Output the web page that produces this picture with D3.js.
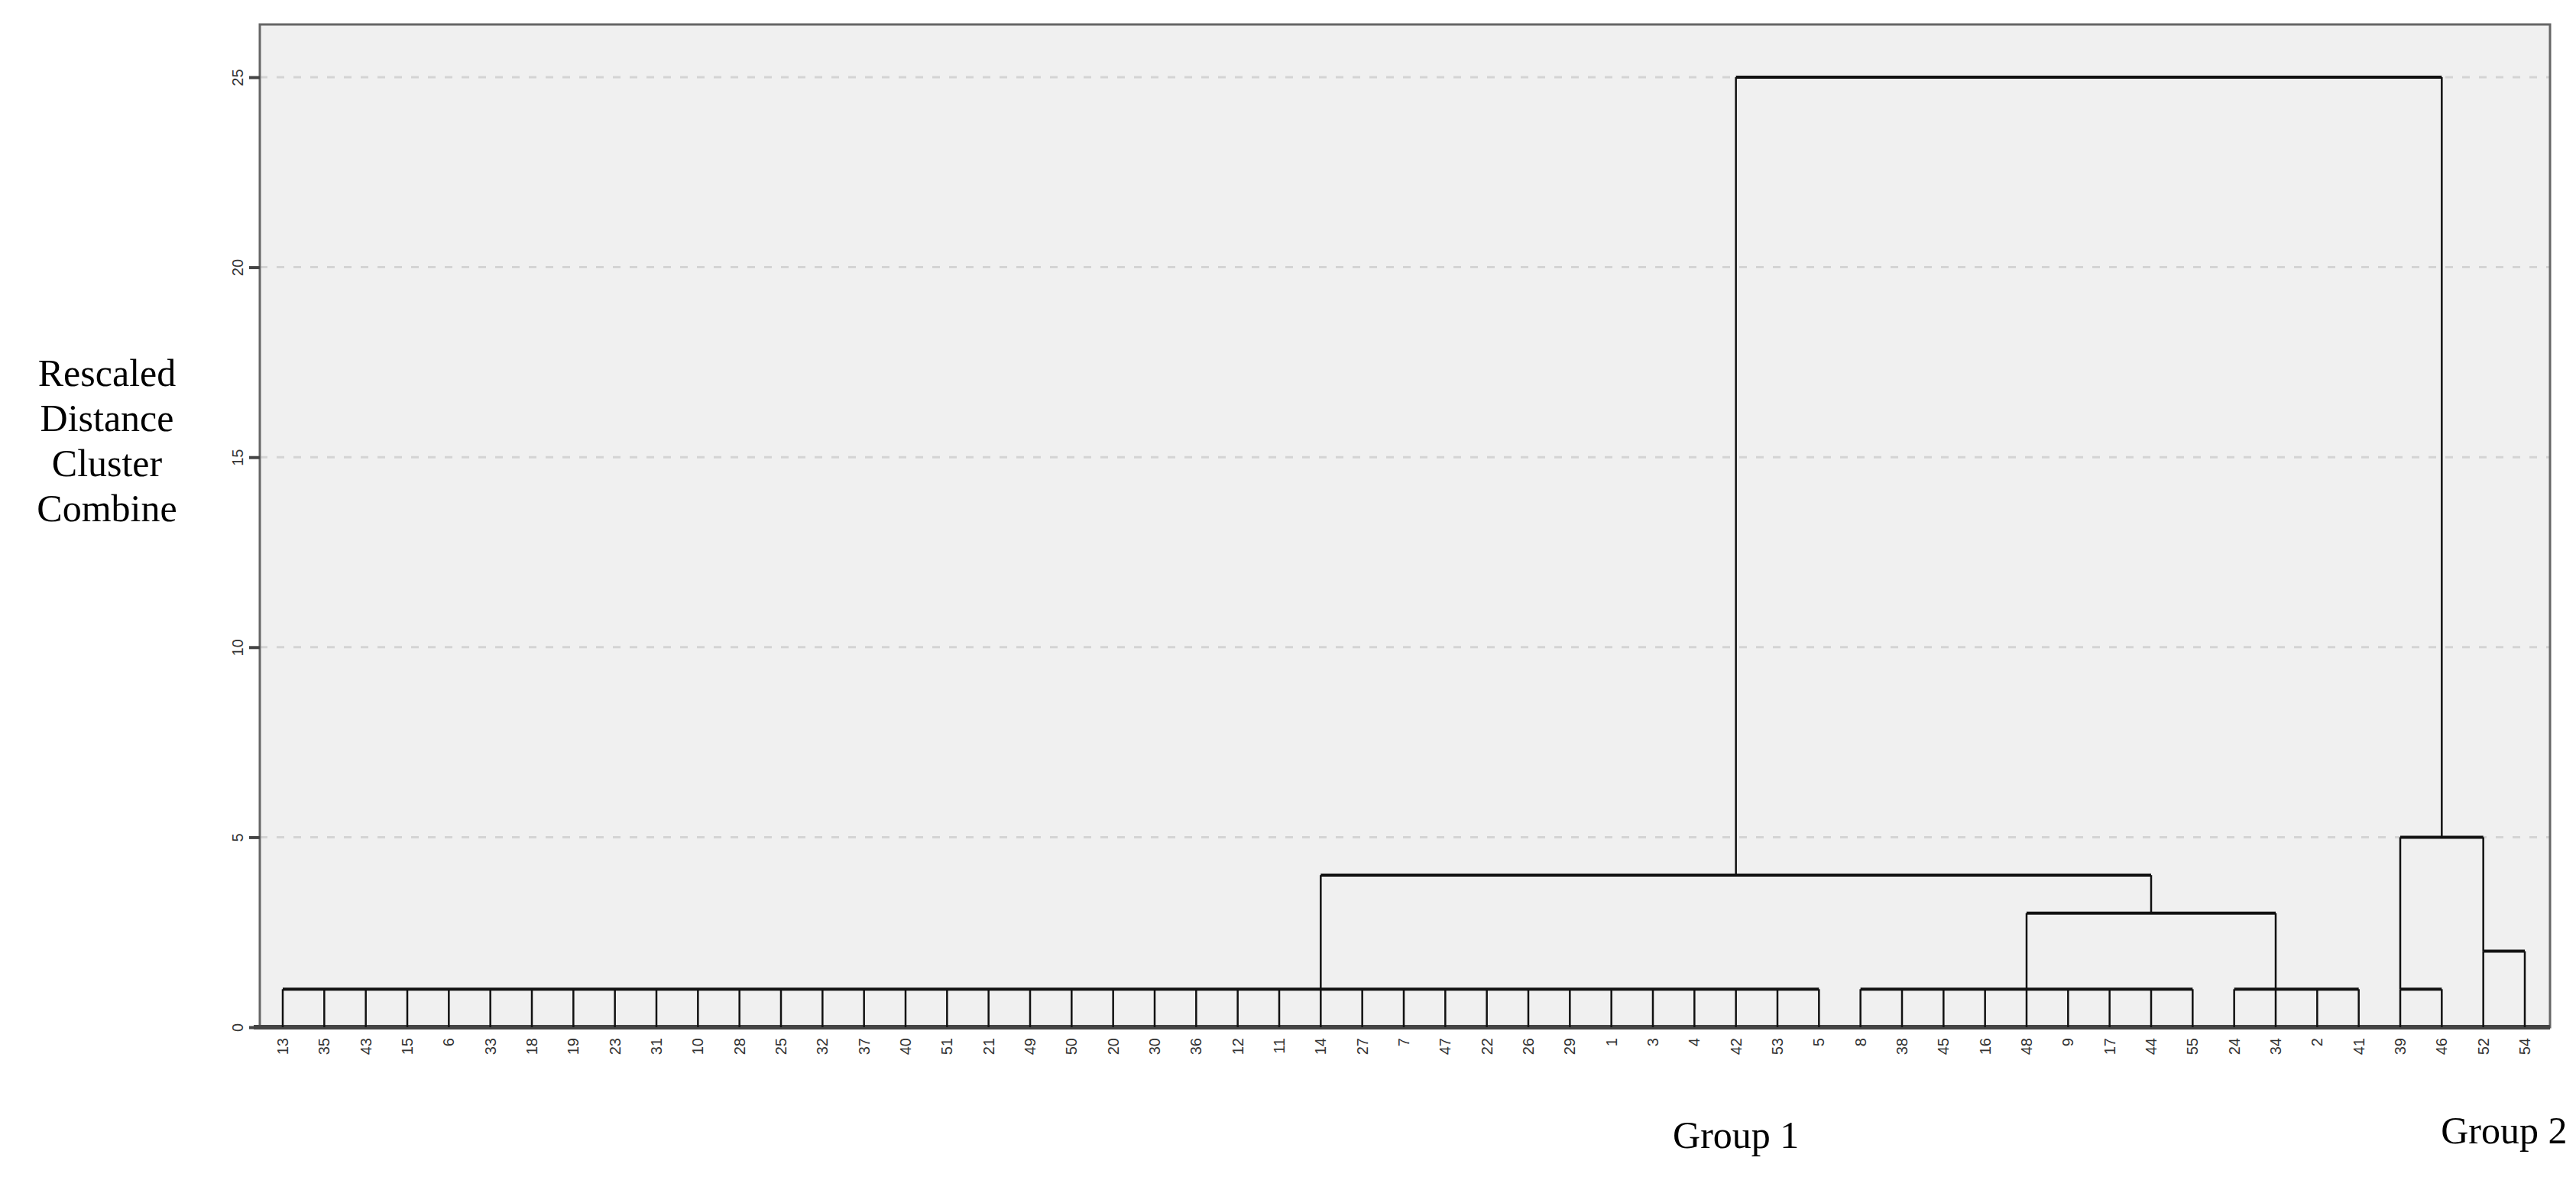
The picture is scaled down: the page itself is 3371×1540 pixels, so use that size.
<!DOCTYPE html>
<html>
<head>
<meta charset="utf-8">
<script src="https://cdn.jsdelivr.net/npm/d3@7"></script>
<style>
  body { margin: 0; background: #fff; }
</style>
</head>
<body>
<svg id="chart" width="3371" height="1540"></svg>
<script>
// leaf order as printed under the dendrogram
const leaves = [13, 35, 43, 15, 6, 33, 18, 19, 23, 31, 10, 28, 25, 32, 37, 40, 51, 21, 49, 50,
  20, 30, 36, 12, 11, 14, 27, 7, 47, 22, 26, 29, 1, 3, 4, 42, 53, 5,
  8, 38, 45, 16, 48, 9, 17, 44, 55,
  24, 34, 2, 41,
  39, 46, 52, 54];

// height at which each leaf first joins a cluster (same order as leaves)
const leafHeights = leaves.map(d => (d === 52 || d === 54) ? 2 : 1);

// merges: horizontal bar from leaf index `from` to `to` at `height`,
// with a stem rising from leaf index `stem` up to `parent` height
const merges = [
  { from: 0,  to: 37, height: 1, stem: 25, parent: 4 },
  { from: 38, to: 46, height: 1, stem: 42, parent: 3 },
  { from: 47, to: 50, height: 1, stem: 48, parent: 3 },
  { from: 42, to: 48, height: 3, stem: 45, parent: 4 },
  { from: 25, to: 45, height: 4, stem: 35, parent: 25 },
  { from: 51, to: 52, height: 1, stem: 51, parent: 5 },
  { from: 53, to: 54, height: 2, stem: 53, parent: 5 },
  { from: 51, to: 53, height: 5, stem: 52, parent: 25 },
  { from: 35, to: 52, height: 25, stem: null, parent: null }
];

const yTicks = [0, 5, 10, 15, 20, 25];
const groupLabels = [{ text: 'Group 1', leaf: 35 }, { text: 'Group 2', leaf: 53.5 }];
const yTitle = ['Rescaled', 'Distance', 'Cluster', 'Combine'];

const svg = d3.select('#chart');
const plotLeft = 340, plotRight = 3337, plotTop = 32, plotBottom = 1344;

const x = d3.scaleLinear().domain([0, leaves.length - 1]).range([370, 3304]);
const y = d3.scaleLinear().domain([0, 25]).range([plotBottom, 101]);

svg.append('rect')
  .attr('x', plotLeft).attr('y', plotTop)
  .attr('width', plotRight - plotLeft).attr('height', plotBottom - plotTop)
  .attr('fill', '#f0f0f0');

// grid
svg.append('g')
  .selectAll('line')
  .data(yTicks.filter(d => d > 0))
  .enter()
  .append('line')
  .attr('x1', plotLeft).attr('x2', plotRight)
  .attr('y1', d => y(d)).attr('y2', d => y(d))
  .attr('stroke', '#d4d4d4')
  .attr('stroke-width', 3)
  .attr('stroke-dasharray', '10,12');

// frame
svg.append('rect')
  .attr('x', plotLeft).attr('y', plotTop)
  .attr('width', plotRight - plotLeft).attr('height', plotBottom - plotTop)
  .attr('fill', 'none')
  .attr('stroke', '#666')
  .attr('stroke-width', 3);

// y axis
const yAxis = svg.append('g')
  .attr('transform', `translate(${plotLeft},0)`)
  .call(d3.axisLeft(y).tickValues(yTicks).tickSize(14).tickFormat(d3.format('d')));
yAxis.select('.domain').remove();
yAxis.selectAll('line').attr('stroke', '#444').attr('stroke-width', 4);
yAxis.selectAll('text')
  .attr('font-family', 'Liberation Sans, Arial, sans-serif')
  .attr('font-size', 20)
  .attr('fill', '#333')
  .attr('x', 0).attr('dy', null)
  .attr('text-anchor', 'middle')
  .attr('transform', 'translate(-22,0) rotate(-90)');

// baseline
svg.append('line')
  .attr('x1', plotLeft - 8).attr('x2', plotRight)
  .attr('y1', plotBottom).attr('y2', plotBottom)
  .attr('stroke', '#444').attr('stroke-width', 6);

const tree = svg.append('g').attr('stroke', '#111').attr('stroke-width', 2.5).attr('fill', 'none');

// leaf stems
tree.selectAll('.leaf')
  .data(leaves)
  .enter()
  .append('line')
  .attr('x1', (d, i) => x(i)).attr('x2', (d, i) => x(i))
  .attr('y1', plotBottom).attr('y2', (d, i) => y(leafHeights[i]));

// horizontal bars
tree.selectAll('.bar')
  .data(merges)
  .enter()
  .append('line')
  .attr('x1', d => x(d.from)).attr('x2', d => x(d.to))
  .attr('y1', d => y(d.height)).attr('y2', d => y(d.height))
  .attr('stroke-width', 4);

// stems to parent
tree.selectAll('.stem')
  .data(merges.filter(d => d.stem !== null))
  .enter()
  .append('line')
  .attr('x1', d => x(d.stem)).attr('x2', d => x(d.stem))
  .attr('y1', d => y(d.height)).attr('y2', d => y(d.parent));

// leaf labels
svg.append('g')
  .selectAll('text')
  .data(leaves)
  .enter()
  .append('text')
  .attr('transform', (d, i) => `translate(${x(i) + 7},${plotBottom + 14}) rotate(-90)`)
  .attr('text-anchor', 'end')
  .attr('font-family', 'Liberation Sans, Arial, sans-serif')
  .attr('font-size', 20)
  .attr('fill', '#333')
  .text(d => d);

// group labels
svg.append('g')
  .selectAll('text')
  .data(groupLabels)
  .enter()
  .append('text')
  .attr('x', d => x(d.leaf))
  .attr('y', (d, i) => i === 0 ? 1502 : 1496)
  .attr('text-anchor', 'middle')
  .attr('font-family', 'Liberation Serif, Times New Roman, serif')
  .attr('font-size', 50)
  .text(d => d.text);

// y title
svg.append('g')
  .selectAll('text')
  .data(yTitle)
  .enter()
  .append('text')
  .attr('x', 140)
  .attr('y', (d, i) => 505 + i * 59)
  .attr('text-anchor', 'middle')
  .attr('font-family', 'Liberation Serif, Times New Roman, serif')
  .attr('font-size', 50)
  .text(d => d);
</script>
</body>
</html>
